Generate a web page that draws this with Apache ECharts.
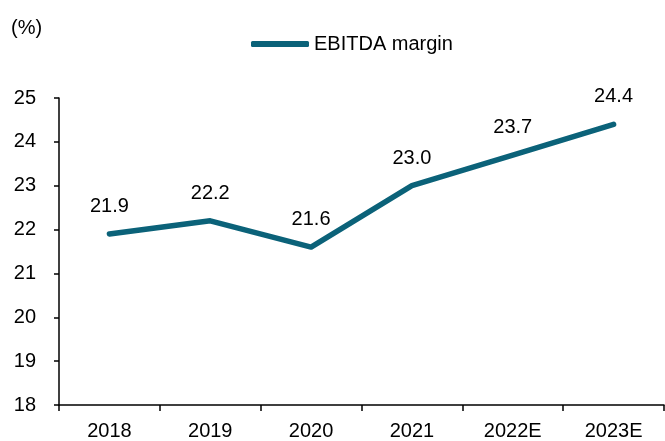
<!DOCTYPE html>
<html>
<head>
<meta charset="utf-8">
<script src="https://cdn.jsdelivr.net/npm/echarts@6/dist/echarts.min.js"></script>
<style>
    html, body { margin: 0; padding: 0; background: #fff; }
    #chart { width: 665px; height: 441px; }
</style>
</head>
<body>
<div id="chart"></div>
<script>
// 数据
var years = ['2018', '2019', '2020', '2021', '2022E', '2023E'];
var ebitdaMargin = [21.9, 22.2, 21.6, 23.0, 23.7, 24.4];
var seriesName = 'EBITDA margin';

var lineColor = '#0b6279';
var font = 'Liberation Sans, Arial, sans-serif';
var fz = 20;

var chart = echarts.init(document.getElementById('chart'));

var option = {
    animation: false,
    textStyle: {fontFamily: font},
    grid: {
        left: 59,
        right: 1,
        top: 98,
        bottom: 36
    },
    legend: {
        data: [seriesName],
        top: 29,
        left: 246,
        itemWidth: 58,
        itemHeight: 6,
        itemGap: 6,
        icon: 'roundRect',
        textStyle: {
            fontSize: fz,
            color: '#000',
            fontFamily: font
        }
    },
    graphic: [{
        type: 'text',
        left: 11,
        top: 18,
        style: {
            text: '(%)',
            fontSize: fz,
            fill: '#000',
            fontFamily: font
        }
    }],
    xAxis: {
        type: 'category',
        data: years,
        boundaryGap: true,
        axisLine: {lineStyle: {color: '#000', width: 1.5}},
        axisTick: {show: true, length: 6, lineStyle: {color: '#000', width: 1.5}},
        axisLabel: {
            fontSize: fz,
            color: '#000',
            margin: 16,
            fontFamily: font
        },
        splitLine: {show: false}
    },
    yAxis: {
        type: 'value',
        min: 18,
        max: 25,
        interval: 1,
        axisLine: {show: true, lineStyle: {color: '#000', width: 1.5}},
        axisTick: {show: true, length: 5, lineStyle: {color: '#000', width: 1.5}},
        axisLabel: {
            fontSize: fz,
            color: '#000',
            margin: 23,
            fontFamily: font
        },
        splitLine: {show: false}
    },
    series: [{
        name: seriesName,
        type: 'line',
        data: ebitdaMargin,
        symbol: 'circle',
        symbolSize: 1,
        lineStyle: {color: lineColor, width: 5.5, cap: 'round', join: 'round'},
        itemStyle: {color: lineColor},
        label: {
            show: true,
            position: 'top',
            distance: 17,
            fontSize: fz,
            color: '#000',
            fontFamily: font,
            formatter: function (p) {
                return p.value.toFixed(1);
            }
        }
    }]
};
chart.setOption(option);
</script>
</body>
</html>
